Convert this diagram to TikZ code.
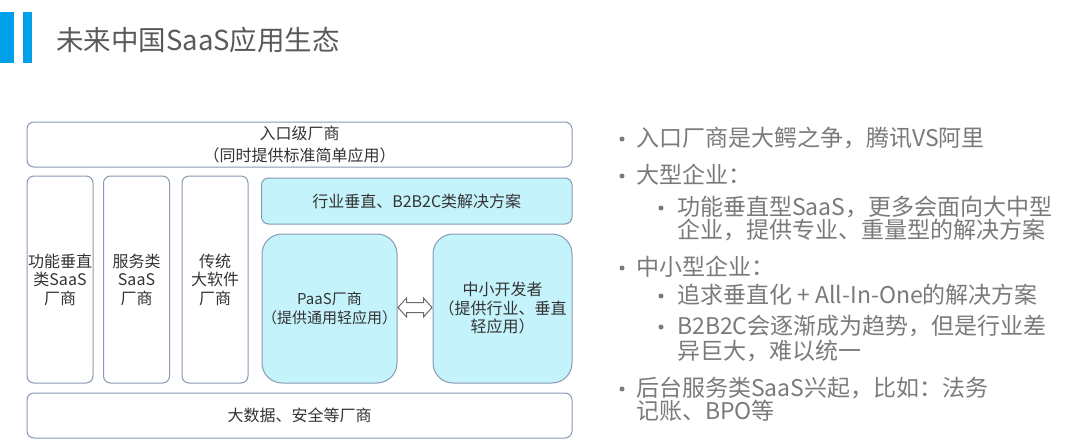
\documentclass[tikz,border=0pt]{standalone}
\usepackage{fontspec}
\setmainfont{Noto Sans CJK SC}
\usetikzlibrary{calc}
\definecolor{bluebar}{HTML}{00A0E9}
\definecolor{titlegrey}{HTML}{595959}
\definecolor{txtgrey}{HTML}{7A7A7A}
\definecolor{boxtxt}{HTML}{333333}
\definecolor{edgecol}{HTML}{8899B2}
\definecolor{cyanfill}{HTML}{C5F3FB}
\definecolor{arrowcol}{HTML}{6A6A6A}
\begin{document}
\begin{tikzpicture}[x=1pt,y=-1pt,
  box/.style={draw=edgecol, line width=1pt, rounded corners=7pt, fill=white,
    inner sep=0pt, align=center, text=boxtxt, font=\fontsize{16}{18.5}\selectfont},
  cbox/.style={box, fill=cyanfill},
  bigbox/.style={cbox, rounded corners=20pt},
  bar/.style={fill=bluebar, draw=none},
  lvlone/.style={anchor=west, inner sep=0pt, text=txtgrey, font=\fontsize{23}{26}\selectfont},
  lvltwo/.style={lvlone},
  dot/.style={circle, fill=txtgrey, draw=none, inner sep=0pt, minimum size=5pt},
  dblarrow/.style={draw=arrowcol, fill=white, line width=1pt, line join=miter}
]
\useasboundingbox (0,0) rectangle (1080,444);

% title
\fill[bar] (0,12) rectangle (14,63);
\fill[bar] (23,12) rectangle (32,63);
\node[anchor=west, inner sep=0pt, text=titlegrey, font=\fontsize{27.5}{30}\selectfont] (title) at (56,40) {未来中国SaaS应用生态};

% diagram boxes
\node[box, minimum width=545pt, minimum height=45pt, font=\fontsize{16}{22}\selectfont] (entry) at (299.5,144.5) {入口级厂商\\（同时提供标准简单应用）};
\node[box, minimum width=66pt, minimum height=207pt] (func) at (60,279.5) {功能垂直\\类SaaS\\厂商};
\node[box, minimum width=66pt, minimum height=207pt] (serv) at (136.5,279.5) {服务类\\SaaS\\厂商};
\node[box, minimum width=66pt, minimum height=207pt] (trad) at (215,279.5) {传统\\大软件\\厂商};
\node[cbox, minimum width=310.5pt, minimum height=46pt] (ind) at (416.75,201) {行业垂直、B2B2C类解决方案};
\node[bigbox, minimum width=135pt, minimum height=149pt, font=\fontsize{15}{18.5}\selectfont] (paas) at (329.5,308.5) {PaaS厂商\\（提供通用轻应用）};
\node[bigbox, minimum width=139pt, minimum height=149pt] (dev) at (502.5,308.5) {中小开发者\\（提供行业、垂直\\轻应用）};
\node[box, minimum width=545pt, minimum height=45pt] (data) at (299.5,415.5) {大数据、安全等厂商};

% double block arrow between PaaS and developers
\coordinate (aL) at ($(paas.east)+(0.5,-1)$);
\coordinate (aR) at ($(dev.west)+(-0.5,-1)$);
\draw[dblarrow] (aL) -- ++(8.5,-9.5) -- ++(0,4.5) -- ($(aR)+(-8.5,-5)$) -- ++(0,-4.5)
  -- (aR) -- ++(-8.5,9.5) -- ++(0,-4.5) -- ($(aL)+(8.5,5)$) -- ++(0,4.5) -- cycle;

% right-hand bullet text
\node[dot] (b1) at (622,139) {};
\node[lvlone] (t1) at (636,138) {入口厂商是大鳄之争，腾讯VS阿里};
\node[dot] (b2) at (622,176) {};
\node[lvlone] (t2) at (636,175) {大型企业：};
\node[dot] (b3) at (661,208) {};
\node[lvltwo] (t3) at (677,207) {功能垂直型SaaS，更多会面向大中型};
\node[lvltwo] (t3b) at (677,230) {企业，提供专业、重量型的解决方案};
\node[dot] (b4) at (622,268) {};
\node[lvlone] (t4) at (636,267) {中小型企业：};
\node[dot] (b5) at (661,296) {};
\node[lvltwo] (t5) at (677,295) {追求垂直化 + All-In-One的解决方案};
\node[dot] (b6) at (661,327) {};
\node[lvltwo] (t6) at (677,326) {B2B2C会逐渐成为趋势，但是行业差};
\node[lvltwo] (t6b) at (677,351) {异巨大，难以统一};
\node[dot] (b7) at (622,389) {};
\node[lvlone] (t7) at (636,388) {后台服务类SaaS兴起，比如：法务};
\node[lvlone] (t7b) at (636,411) {记账、BPO等};
\end{tikzpicture}
\end{document}
